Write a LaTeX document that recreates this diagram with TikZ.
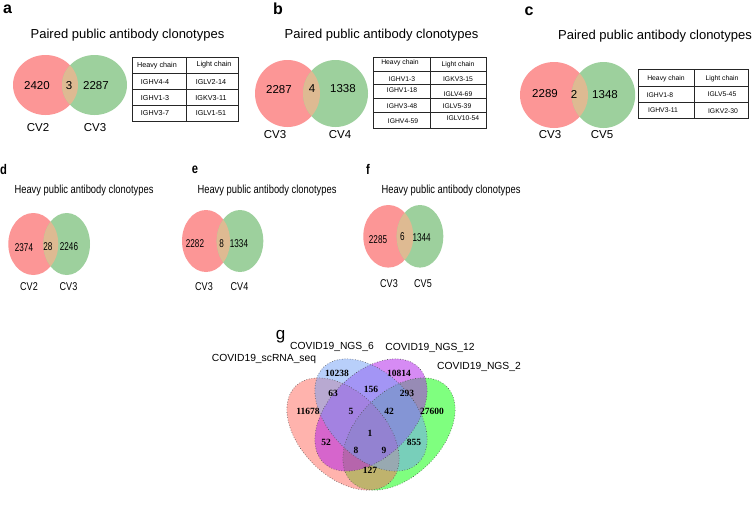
\documentclass[tikz,border=0pt]{standalone}
\usepackage{fontspec}
\setmainfont{Liberation Sans}
\newfontfamily\serifb{Liberation Serif}
\usepackage{graphicx}
\definecolor{vpink}{RGB}{252,150,150}
\definecolor{vgreen}{RGB}{157,208,157}
\definecolor{vover}{RGB}{222,186,146}
\definecolor{gG}{RGB}{0,255,0}
\definecolor{gR}{RGB}{255,104,92}
\definecolor{gP}{RGB}{175,25,235}
\definecolor{gB}{RGB}{114,160,246}
\newcommand{\nt}[2][0.8]{\scalebox{#1}[1]{#2}}
% #1 x1, #2 rx1, #3 x2, #4 rx2, #5 y, #6 ry
\newcommand{\twovenn}[6]{%
  \fill[vpink] (#1,#5) ellipse [x radius=#2, y radius=#6];
  \fill[vgreen] (#3,#5) ellipse [x radius=#4, y radius=#6];
  \begin{scope}
    \clip (#1,#5) ellipse [x radius=#2, y radius=#6];
    \fill[vover] (#3,#5) ellipse [x radius=#4, y radius=#6];
  \end{scope}}
\begin{document}
\begin{tikzpicture}[x=1pt,y=-1pt,
  title/.style={font=\fontsize{13}{15}\selectfont, inner sep=0pt},
  titlen/.style={font=\fontsize{11.7}{14}\selectfont, inner sep=0pt},
  num/.style={font=\fontsize{11.5}{13}\selectfont, inner sep=0pt},
  numn/.style={font=\fontsize{11.3}{13}\selectfont, inner sep=0pt},
  tab/.style={font=\fontsize{7.2}{8}\selectfont, inner sep=0pt},
  tabs/.style={font=\fontsize{6.8}{8}\selectfont, inner sep=0pt},
  plab/.style={font=\bfseries\fontsize{16}{18}\selectfont, inner sep=0pt},
  plabn/.style={font=\bfseries\fontsize{14}{16}\selectfont, inner sep=0pt},
  gnum/.style={font=\serifb\bfseries\fontsize{9.5}{11}\selectfont, inner sep=0pt},
  glab/.style={font=\fontsize{10.3}{12}\selectfont, inner sep=0pt},
  tline/.style={draw=black!85, line width=0.6pt},
  gout/.style={draw=black!70, dotted, line width=0.6pt},
]
\useasboundingbox (0,0) rectangle (756,509);
\fill[white] (0,0) rectangle (756,509);

% ---------------- panel a ----------------
\node[plab] (la) at (7.5,9) {a};
\node[title] (ta) at (127.5,35) {Paired public antibody clonotypes};
\twovenn{45.5}{32.5}{94.5}{32.5}{85}{30}
\node[num] (a1) at (37,86) {2420};
\node[num] (a2) at (69,86) {3};
\node[num] (a3) at (96,86) {2287};
\node[num] (a4) at (38,128) {CV2};
\node[num] (a5) at (95,128) {CV3};
\draw[tline] (132,57) rectangle (238,121);
\draw[tline] (186,57) -- (186,121);
\draw[tline] (132,73) -- (238,73);
\draw[tline] (132,89) -- (238,89);
\draw[tline] (132,105) -- (238,105);
\node[tab] (at1) at (157,66) {Heavy chain};
\node[tab] (at2) at (214,65) {Light chain};
\node[tab] (at3) at (155,82) {IGHV4-4};
\node[tab] (at4) at (211,82) {IGLV2-14};
\node[tab] (at5) at (155,98) {IGHV1-3};
\node[tab] (at6) at (211,98) {IGKV3-11};
\node[tab] (at7) at (155,113.5) {IGHV3-7};
\node[tab] (at8) at (211,113) {IGLV1-51};

% ---------------- panel b ----------------
\node[plab] (lb) at (278,8.5) {b};
\node[title] (tb) at (381.5,35) {Paired public antibody clonotypes};
\twovenn{287.5}{32.5}{335.5}{32.5}{93.5}{33.5}
\node[num] (b1) at (279,90) {2287};
\node[num] (b2) at (312,89) {4};
\node[num] (b3) at (343,89) {1338};
\node[num] (b4) at (275,135) {CV3};
\node[num] (b5) at (340,135) {CV4};
\draw[tline] (373,57) rectangle (486,128);
\draw[tline] (430,57) -- (430,128);
\draw[tline] (373,71) -- (486,71);
\draw[tline] (373,84.5) -- (486,84.5);
\draw[tline] (373,98) -- (486,98);
\draw[tline] (373,112.5) -- (486,112.5);
\node[tabs] (bt1) at (400,63) {Heavy chain};
\node[tabs] (bt2) at (458,65) {Light chain};
\node[tabs] (bt3) at (402,79) {IGHV1-3};
\node[tabs] (bt4) at (458,79) {IGKV3-15};
\node[tabs] (bt5) at (402,90.5) {IGHV1-18};
\node[tabs] (bt6) at (458,94) {IGLV4-69};
\node[tabs] (bt7) at (402,106) {IGHV3-48};
\node[tabs] (bt8) at (457,106) {IGLV5-39};
\node[tabs] (bt9) at (403,121) {IGHV4-59};
\node[tabs] (bt10) at (463,118.5) {IGLV10-54};

% ---------------- panel c ----------------
\node[plab] (lc) at (529,11.5) {c};
\node[title] (tc) at (655,36) {Paired public antibody clonotypes};
\twovenn{554}{34}{603.5}{31.7}{95}{33}
\node[num] (c1) at (545,94) {2289};
\node[num] (c2) at (574,94) {2};
\node[num] (c3) at (605,95) {1348};
\node[num] (c4) at (550,135) {CV3};
\node[num] (c5) at (602,135) {CV5};
\draw[tline] (638,69) rectangle (748,118);
\draw[tline] (694,69) -- (694,118);
\draw[tline] (638,86) -- (748,86);
\draw[tline] (638,102) -- (748,102);
\node[tabs] (ct1) at (666,79) {Heavy chain};
\node[tabs] (ct2) at (722,79) {Light chain};
\node[tabs] (ct3) at (660,95) {IGHV1-8};
\node[tabs] (ct4) at (722,94.5) {IGLV5-45};
\node[tabs] (ct5) at (663,110) {IGHV3-11};
\node[tabs] (ct6) at (723,111) {IGKV2-30};

% ---------------- panel d ----------------
\node[plabn, anchor=west] (ld) at (0,169.5) {\nt{d}};
\node[titlen] (td) at (84,190) {\nt{Heavy public antibody clonotypes}};
\twovenn{33.3}{25}{66.7}{23.3}{244}{31}
\node[numn] (d1) at (24,248) {\nt[0.72]{2374}};
\node[numn] (d2) at (48,247) {\nt[0.72]{28}};
\node[numn] (d3) at (69,247) {\nt[0.72]{2246}};
\node[numn] (d4) at (29,287) {\nt[0.8]{CV2}};
\node[numn] (d5) at (68.5,287) {\nt[0.8]{CV3}};

% ---------------- panel e ----------------
\node[plabn] (le) at (195,169.5) {\nt{e}};
\node[titlen] (te) at (267,190) {\nt{Heavy public antibody clonotypes}};
\twovenn{206}{24}{240}{23.3}{241}{31}
\node[numn] (e1) at (195,244) {\nt[0.72]{2282}};
\node[numn] (e2) at (221.7,244) {\nt[0.72]{8}};
\node[numn] (e3) at (239,244) {\nt[0.72]{1334}};
\node[numn] (e4) at (204,287) {\nt[0.8]{CV3}};
\node[numn] (e5) at (239.5,287) {\nt[0.8]{CV4}};

% ---------------- panel f ----------------
\node[plabn] (lf) at (368,169.5) {\nt{f}};
\node[titlen] (tf) at (451,190) {\nt{Heavy public antibody clonotypes}};
\twovenn{388.3}{25}{420}{23.3}{236.3}{31.3}
\node[numn] (f1) at (378,239.3) {\nt[0.72]{2285}};
\node[numn] (f2) at (402.3,236.7) {\nt[0.72]{6}};
\node[numn] (f3) at (421.7,238) {\nt[0.72]{1344}};
\node[numn] (f4) at (389,283.3) {\nt[0.8]{CV3}};
\node[numn] (f5) at (423,283.3) {\nt[0.8]{CV5}};

% ---------------- panel g ----------------
\node[font=\fontsize{17}{19}\selectfont, inner sep=0pt] (lg) at (280.5,336.5) {g};
\node[glab] (g6) at (332,347) {COVID19\_NGS\_6};
\node[glab] (g12) at (430,348) {COVID19\_NGS\_12};
\node[glab] (gsc) at (264,359) {COVID19\_scRNA\_seq};
\node[glab] (g2) at (479,367) {COVID19\_NGS\_2};

\fill[gG, fill opacity=0.5, rotate around={45:(399,434)}] (399,434) ellipse [x radius=67.3, y radius=42.1];
\fill[gR, fill opacity=0.5, rotate around={-45:(343,434)}] (343,434) ellipse [x radius=67.3, y radius=42.1];
\fill[gP, fill opacity=0.5, rotate around={45:(371,415)}] (371,415) ellipse [x radius=67.3, y radius=42.1];
\fill[gB, fill opacity=0.5, rotate around={-45:(371,415)}] (371,415) ellipse [x radius=67.3, y radius=42.1];
\draw[gout, rotate around={45:(399,434)}] (399,434) ellipse [x radius=67.3, y radius=42.1];
\draw[gout, rotate around={-45:(343,434)}] (343,434) ellipse [x radius=67.3, y radius=42.1];
\draw[gout, rotate around={45:(371,415)}] (371,415) ellipse [x radius=67.3, y radius=42.1];
\draw[gout, rotate around={-45:(371,415)}] (371,415) ellipse [x radius=67.3, y radius=42.1];

\node[gnum] (n1) at (337,373) {10238};
\node[gnum] (n2) at (399,373) {10814};
\node[gnum] (n3) at (333,393) {63};
\node[gnum] (n4) at (371,389) {156};
\node[gnum] (n5) at (407,393) {293};
\node[gnum] (n6) at (308,411) {11678};
\node[gnum] (n7) at (351,411) {5};
\node[gnum] (n8) at (389,411) {42};
\node[gnum] (n9) at (432,411) {27600};
\node[gnum] (n10) at (370,433) {1};
\node[gnum] (n11) at (326,442) {52};
\node[gnum] (n12) at (414,442) {855};
\node[gnum] (n13) at (356,450) {8};
\node[gnum] (n14) at (384,450) {9};
\node[gnum] (n15) at (370,470) {127};
\end{tikzpicture}
\end{document}
